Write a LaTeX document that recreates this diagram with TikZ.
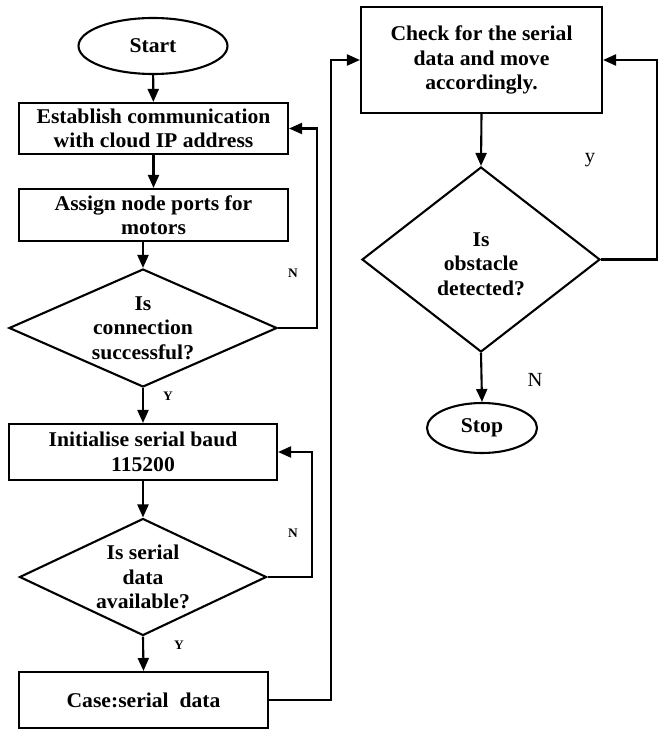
\documentclass[tikz,border=0pt]{standalone}
\usepackage{fontspec}
\setmainfont[FakeStretch=1.03]{Liberation Serif}
\usetikzlibrary{shapes.geometric,arrows.meta}
\begin{document}
\begin{tikzpicture}[x=1pt,y=-1pt,
  txt/.style={font=\fontsize{21}{24.5}\selectfont\bfseries, align=center, inner sep=0pt},
  proc/.style={txt, draw, line width=2.1pt, rectangle},
  term/.style={txt, draw, line width=2.1pt, ellipse},
  dec/.style={txt, draw, line width=2.1pt, diamond},
  arr/.style={line width=2.1pt, -{Triangle[length=13pt,width=11pt]}},
  small/.style={font=\fontsize{13}{15}\selectfont\bfseries, inner sep=0pt},
  big/.style={font=\fontsize{20}{24}\selectfont, inner sep=0pt}]
\useasboundingbox (0,0) rectangle (659,730);
% left column
\node[term, minimum width=149pt, minimum height=56pt] (start) at (153,46) {Start};
\node[proc, minimum width=269pt, minimum height=51pt] (est) at (153.5,128.5) {Establish communication\\with cloud IP address};
\node[proc, minimum width=269pt, minimum height=52pt] (assign) at (153.5,215) {Assign node ports for\\motors};
\node[dec, aspect=2.27, minimum width=268pt, minimum height=118pt] (d1) at (143,328) {Is\\connection\\successful?};
\node[proc, minimum width=268pt, minimum height=56pt] (init) at (143,452) {Initialise serial baud\\115200};
\node[dec, aspect=2.11, minimum width=247pt, minimum height=117pt] (d2) at (143,577) {Is serial\\data\\available?};
\node[proc, minimum width=249pt, minimum height=56pt] (case) at (143.5,700) {Case:serial\ \ data};
% right column
\node[proc, minimum width=241pt, minimum height=106pt] (check) at (481.5,60) {Check for the serial\\data and move\\accordingly.};
\node[dec, aspect=1.29, minimum width=238pt, minimum height=185pt] (d3) at (481,259.5) {\\[-2pt]Is\\obstacle\\detected?};
\node[term, minimum width=110pt, minimum height=50pt] (stop) at (482,428) {Stop};
% connectors
\draw[arr] (start) -- (est);
\draw[arr] (est) -- (assign);
\draw[arr] (d1.north |- assign.south) -- (d1.north);
\draw[arr] (d1.east) -- ++(39,0) |- (est.east);
\draw[arr] (d1.south) -- (init.north);
\draw[arr] (init.south) -- (d2.north);
\draw[arr] (d2.east) -- ++(44,0) |- (init.east);
\draw[arr] (d2.south) -- (case.north);
\draw[arr] (case.east) -- ++(62,0) |- (check.west);
\draw[arr] (check.south) -- (d3.north);
\draw[arr] (d3.east) -- ++(56,0) |- (check.east);
\draw[arr] (d3.south) -- (stop.north);
% labels
\node[small] (n1) at (293,273) {N};
\node[small] (y1) at (168,396) {Y};
\node[small] (n2) at (293,533) {N};
\node[small] (y2) at (179,645) {Y};
\node[big] (y3) at (590,160) {y};
\node[big] (n3) at (535,380) {N};
\end{tikzpicture}
\end{document}
